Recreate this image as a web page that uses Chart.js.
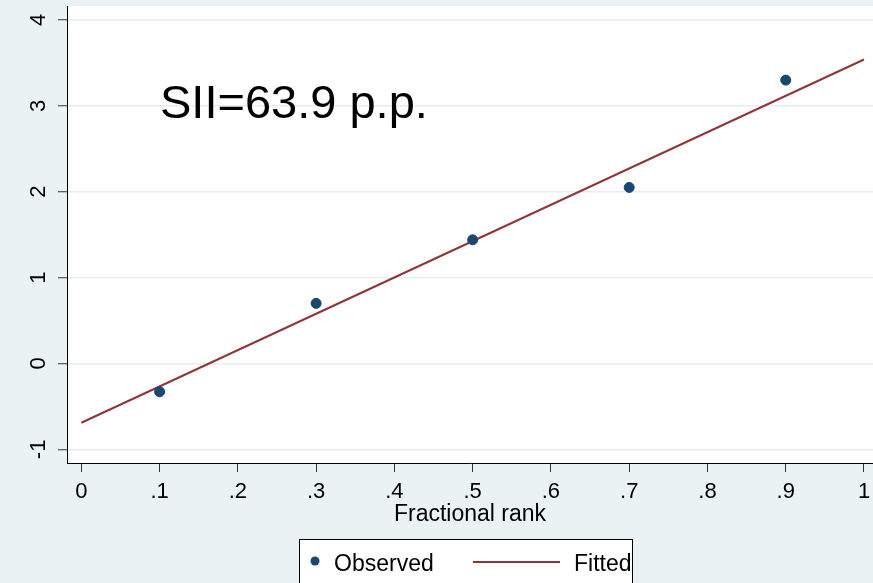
<!DOCTYPE html>
<html>
<head>
<meta charset="utf-8">
<script src="https://cdn.jsdelivr.net/npm/chart.js@4"></script>
<style>
  html, body { margin: 0; padding: 0; background: #EAF2F3; }
  #wrap { width: 873px; height: 583px; }
</style>
</head>
<body>
<div id="wrap"><canvas id="siiChart"></canvas></div>
<script>
// values
const ranks = [0.1, 0.3, 0.5, 0.7, 0.9];
const observed = [-0.33, 0.70, 1.44, 2.05, 3.30];
const fitRanks = [0, 1];
const fitted = [-0.69, 3.54];
const xTicks = [0, 0.1, 0.2, 0.3, 0.4, 0.5, 0.6, 0.7, 0.8, 0.9, 1];
const yTicks = [-1, 0, 1, 2, 3, 4];
const annotation = "SII=63.9 p.p.";

const NAVY = "#1A476F";
const MAROON = "#90353B";
const BG = "#EAF2F3";
const FONT = "Arial, 'Liberation Sans', sans-serif";

const backdrop = {
    id: "backdrop",
    afterLayout(chart) {
        // let the plot region run to the right edge of the canvas
        const x = chart.scales.x;
        chart.chartArea.right = chart.width;
        chart.chartArea.width = chart.width - chart.chartArea.left;
        x.right = chart.width;
        x.width = x.right - x.left;
        x.configure();
        x._labelItems = null;
        x._gridLineItems = null;
        chart.scales.y._gridLineItems = null;
    },
    beforeDraw(chart) {
        const { ctx, chartArea: a } = chart;
        ctx.save();
        ctx.fillStyle = BG;
        ctx.fillRect(0, 0, chart.width, chart.height);
        ctx.fillStyle = "#FFFFFF";
        ctx.fillRect(a.left, a.top, a.right - a.left, a.bottom - a.top);
        ctx.restore();
    },
    afterDraw(chart) {
        const ctx = chart.ctx;
        ctx.save();
        // big label in the plot
        ctx.fillStyle = "#000";
        ctx.font = "47px " + FONT;
        ctx.textBaseline = "alphabetic";
        ctx.fillText(annotation, 160, 118);

        // legend box
        ctx.fillStyle = "#FFFFFF";
        ctx.fillRect(299.5, 539.5, 333, 60);
        ctx.strokeStyle = "#000";
        ctx.lineWidth = 1;
        ctx.strokeRect(299.5, 539.5, 333, 60);

        ctx.fillStyle = NAVY;
        ctx.beginPath();
        ctx.arc(315, 561, 4.5, 0, Math.PI * 2);
        ctx.fill();

        ctx.strokeStyle = MAROON;
        ctx.lineWidth = 2;
        ctx.beginPath();
        ctx.moveTo(473, 562);
        ctx.lineTo(560, 562);
        ctx.stroke();

        ctx.fillStyle = "#000";
        ctx.font = "23px " + FONT;
        ctx.fillText("Observed", 334, 571);
        ctx.fillText("Fitted", 574, 571);
        ctx.restore();
    }
};

new Chart(document.getElementById("siiChart"), {
    type: "scatter",
    data: {
        datasets: [{
            label: "Observed",
            data: ranks.map((r, i) => ({ x: r, y: observed[i] })),
            backgroundColor: NAVY,
            borderColor: NAVY,
            pointRadius: 5,
            pointHoverRadius: 5,
            order: 1
        }, {
            label: "Fitted",
            type: "line",
            data: fitRanks.map((r, i) => ({ x: r, y: fitted[i] })),
            borderColor: MAROON,
            borderWidth: 2,
            pointRadius: 0,
            fill: false,
            order: 2
        }]
    },
    options: {
        responsive: true,
        maintainAspectRatio: false,
        animation: false,
        events: [],
        layout: { padding: { top: 5, right: 0, left: 0, bottom: 0 } },
        plugins: {
            legend: { display: false },
            tooltip: { enabled: false }
        },
        scales: {
            x: {
                type: "linear",
                min: -0.0183,
                max: 1.0115,
                afterBuildTicks: (s) => { s.ticks = xTicks.map(v => ({ value: v })); },
                afterFit: (s) => { s.height = 120; },
                grid: {
                    drawOnChartArea: false,
                    drawTicks: true,
                    tickLength: 9,
                    tickColor: "#333"
                },
                border: { color: "#000", width: 1 },
                ticks: {
                    color: "#000",
                    font: { family: FONT, size: 22 },
                    padding: 7,
                    maxRotation: 0,
                    callback: (v) => v === 0 ? "0" : v === 1 ? "1" : String(v).replace(/^0/, "")
                },
                title: {
                    display: true,
                    text: "Fractional rank",
                    color: "#000",
                    font: { family: FONT, size: 23 },
                    padding: { top: 0, bottom: 55 }
                }
            },
            y: {
                type: "linear",
                min: -1.159,
                max: 4.163,
                afterBuildTicks: (s) => { s.ticks = yTicks.map(v => ({ value: v })); },
                afterFit: (s) => {
                    s.width = 67;
                    s.paddingTop = 0;
                    s.paddingBottom = 0;
                },
                grid: {
                    color: "#E6EEF0",
                    lineWidth: 1.5,
                    drawTicks: true,
                    tickLength: 9,
                    tickColor: "#333",
                    tickWidth: 1
                },
                border: { color: "#000", width: 1 },
                ticks: {
                    color: "#000",
                    font: { family: FONT, size: 22 },
                    minRotation: 90,
                    maxRotation: 90,
                    crossAlign: "center",
                    padding: 9
                }
            }
        }
    },
    plugins: [backdrop]
});
</script>
</body>
</html>
